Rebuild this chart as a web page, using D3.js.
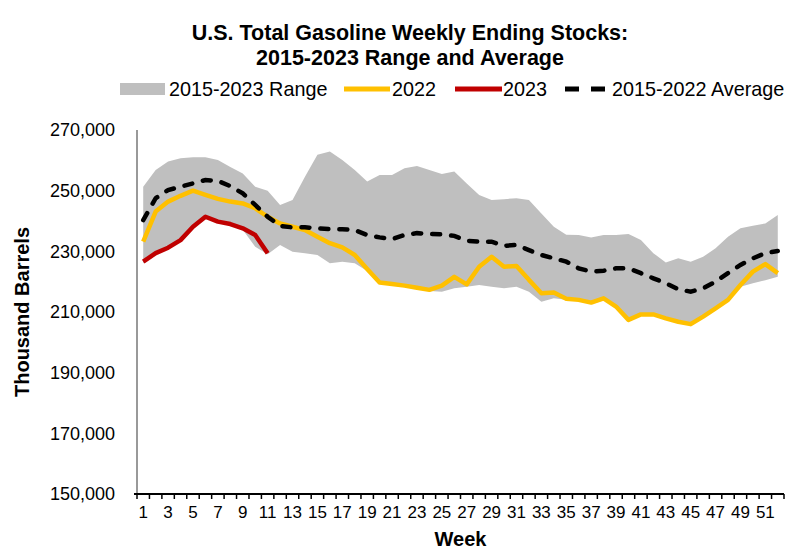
<!DOCTYPE html>
<html><head><meta charset="utf-8">
<script src="https://cdn.jsdelivr.net/npm/d3@7"></script>
<style>
body{margin:0;background:#fff;}
text{font-family:"Liberation Sans",Arial,sans-serif;fill:#000;}
</style></head>
<body><svg id="c" width="800" height="556"></svg>
<script>
const weeks = d3.range(1, 53);
const tickLabels = weeks.filter(w => w % 2 === 1);
const yTicks = [150000, 170000, 190000, 210000, 230000, 250000, 270000];
const rangeUpper = [251300,256800,259600,260700,261000,261000,260100,257800,255700,251300,250000,245300,246900,254600,261800,262900,260100,256800,253000,255200,255200,257400,258100,256800,255500,256300,252400,248600,246900,247200,247500,246900,242500,238100,235500,235400,234600,235400,235400,235700,233700,229400,226300,227700,226600,228200,231000,234800,237600,238400,239200,242000];
const rangeLower = [226100,228900,230700,233200,237600,240900,239300,238500,237100,231500,229000,232100,229900,229400,228800,226100,226600,226100,223500,219300,218800,218300,217600,216900,216700,217800,218300,218900,218300,217800,218300,216700,213400,214500,214000,213600,212700,213800,211400,207000,208800,208800,207500,206400,205600,208100,210800,213600,218300,219500,220500,221600];
const s2022 = [233200,243100,246400,248300,250000,248600,247300,246400,245800,244200,241400,239200,238100,237000,234800,232700,231300,228800,224200,219700,219200,218700,218000,217300,218700,221600,219100,224900,228200,224900,225200,220600,216200,216400,214400,214000,213100,214500,211800,207400,209200,209200,207900,206800,206000,208500,211200,214000,218900,223300,225800,222800];
const s2023 = [226600,229400,231200,233700,238100,241400,239800,239000,237600,235400,229400];
const avg = [240300,247500,250200,251300,252400,253500,253200,251500,249100,245300,241400,238400,237900,237900,237600,237300,237300,237000,235400,234600,234000,235400,236000,235700,235600,235100,233500,233200,233200,231800,232100,230400,228800,227700,226600,224400,223300,223600,224400,224400,222800,221100,219500,217500,216700,217800,220000,222800,225500,227700,229400,230100];

const svg = d3.select("#c");
const L = 137, R = 784, T = 130, B = 494;
const x = d3.scaleBand().domain(weeks).range([L, R]).padding(0);
const cx = w => x(w) + x.bandwidth() / 2;
const y = d3.scaleLinear().domain([150000, 270000]).range([B, T]);

// range area
const area = d3.area().x((d, i) => cx(weeks[i])).y0((d, i) => y(rangeLower[i])).y1(d => y(d));
svg.append("path").datum(rangeUpper).attr("d", area).attr("fill", "#bfbfbf");

const line = d3.line().x((d, i) => cx(weeks[i])).y(d => y(d));
svg.append("path").datum(s2022).attr("d", line).attr("fill", "none").attr("stroke", "#ffc000").attr("stroke-width", 4.5).attr("stroke-linejoin", "round");
svg.append("path").datum(s2023).attr("d", line).attr("fill", "none").attr("stroke", "#c00000").attr("stroke-width", 4.5).attr("stroke-linejoin", "round");
svg.append("path").datum(avg).attr("d", line).attr("fill", "none").attr("stroke", "#000").attr("stroke-width", 4.5).attr("stroke-dasharray", "8,11").attr("stroke-linecap", "round");

// y axis
svg.append("line").attr("x1", L).attr("x2", L).attr("y1", T).attr("y2", B).attr("stroke", "#777").attr("stroke-width", 1.5);
svg.selectAll(".yt").data(yTicks).enter().append("text")
  .attr("x", 115).attr("y", d => y(d)).attr("dy", "0.35em").attr("text-anchor", "end")
  .style("font-size", "18px").text(d => d3.format(",")(d));

// x axis
svg.append("line").attr("x1", L - 3).attr("x2", R).attr("y1", B).attr("y2", B).attr("stroke", "#000").attr("stroke-width", 2);
const bounds = weeks.map(w => x(w)).concat([R]);
svg.selectAll(".xtm").data(bounds).enter().append("line")
  .attr("x1", d => d).attr("x2", d => d).attr("y1", B).attr("y2", B + 5).attr("stroke", "#000").attr("stroke-width", 1.5);
svg.selectAll(".xt").data(tickLabels).enter().append("text")
  .attr("x", d => cx(d)).attr("y", 518).attr("text-anchor", "middle")
  .style("font-size", "17px").text(d => d);

svg.append("text").attr("x", (L + R) / 2).attr("y", 546).attr("text-anchor", "middle")
  .style("font-size", "20px").style("font-weight", "bold").text("Week");
svg.append("text").attr("transform", `translate(29,${(T + B) / 2}) rotate(-90)`).attr("text-anchor", "middle")
  .style("font-size", "20px").style("font-weight", "bold").text("Thousand Barrels");

// title
svg.append("text").attr("x", 410).attr("y", 40).attr("text-anchor", "middle")
  .style("font-size", "21.5px").style("font-weight", "bold").text("U.S. Total Gasoline Weekly Ending Stocks:");
svg.append("text").attr("x", 410).attr("y", 65).attr("text-anchor", "middle")
  .style("font-size", "21.5px").style("font-weight", "bold").text("2015-2023 Range and Average");

// legend
const ly = 89;
const lg = svg.append("g").style("font-size", "19.8px");
lg.append("rect").attr("x", 120).attr("y", ly - 6).attr("width", 45).attr("height", 12).attr("fill", "#bfbfbf");
lg.append("text").attr("x", 169).attr("y", ly).attr("dy", "0.35em").text("2015-2023 Range");
lg.append("line").attr("x1", 344).attr("x2", 390).attr("y1", ly).attr("y2", ly).attr("stroke", "#ffc000").attr("stroke-width", 5);
lg.append("text").attr("x", 392).attr("y", ly).attr("dy", "0.35em").text("2022");
lg.append("line").attr("x1", 455).attr("x2", 502).attr("y1", ly).attr("y2", ly).attr("stroke", "#c00000").attr("stroke-width", 5);
lg.append("text").attr("x", 503).attr("y", ly).attr("dy", "0.35em").text("2023");
lg.append("line").attr("x1", 565).attr("x2", 606).attr("y1", ly).attr("y2", ly).attr("stroke", "#000").attr("stroke-width", 5).attr("stroke-dasharray", "14,12");
lg.append("text").attr("x", 612).attr("y", ly).attr("dy", "0.35em").text("2015-2022 Average");
</script></body></html>
